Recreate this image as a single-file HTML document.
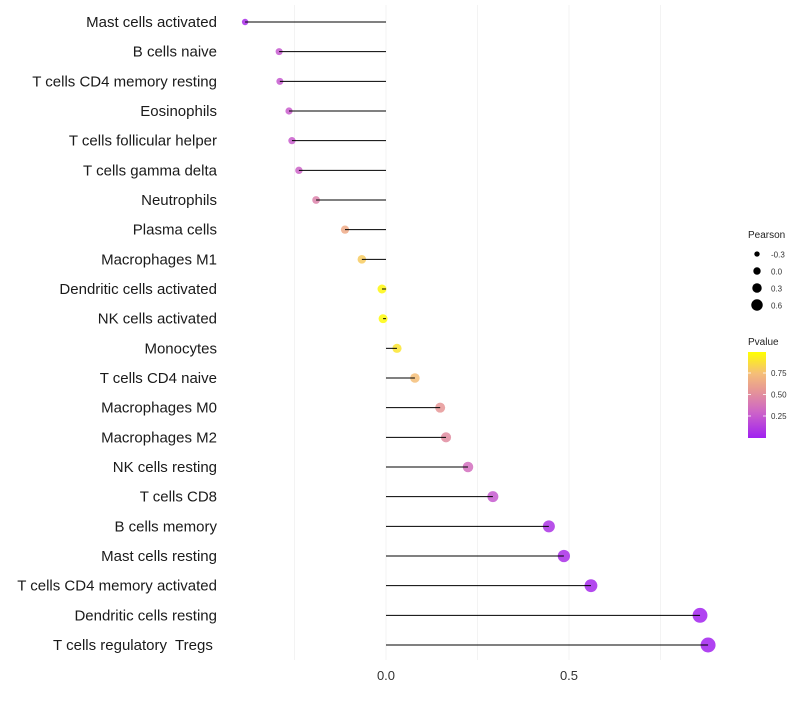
<!DOCTYPE html>
<html><head><meta charset="utf-8"><style>
body{margin:0;background:#fff;font-family:"Liberation Sans",sans-serif}
text{white-space:pre}
</style></head><body>
<svg id="chart" width="800" height="700" xmlns="http://www.w3.org/2000/svg" font-family="Liberation Sans, sans-serif"></svg>
<script>
const categories=["Mast cells activated","B cells naive","T cells CD4 memory resting","Eosinophils","T cells follicular helper","T cells gamma delta","Neutrophils","Plasma cells","Macrophages M1","Dendritic cells activated","NK cells activated","Monocytes","T cells CD4 naive","Macrophages M0","Macrophages M2","NK cells resting","T cells CD8","B cells memory","Mast cells resting","T cells CD4 memory activated","Dendritic cells resting","T cells regulatory  Tregs "];
const pearson=[-0.385,-0.292,-0.29,-0.265,-0.257,-0.238,-0.191,-0.112,-0.066,-0.011,-0.008,0.03,0.079,0.148,0.164,0.224,0.292,0.445,0.486,0.56,0.858,0.88];
const pvalues=[0.05,0.25,0.25,0.27,0.27,0.3,0.45,0.65,0.8,0.97,0.98,0.9,0.75,0.55,0.5,0.35,0.25,0.08,0.06,0.04,0.01,0.01];
const xTicks=[0,0.5];
const xGrid=[-0.25,0.25,0.75];
const sizeLegend=[-0.3,0,0.3,0.6];
const colorTicks=[0.25,0.5,0.75];

const svg=document.getElementById('chart');
const NS='http://www.w3.org/2000/svg';
function mk(t,a,p){const e=document.createElementNS(NS,t);for(const k in a)e.setAttribute(k,a[k]);(p||svg).appendChild(e);return e;}
const xS=v=>386+v*366;
const yS=i=>22+i*(623/21);
const rS=v=>Math.max(2,4.5+3.4*v);
const stops=[[0,[160,32,240]],[0.3,[205,100,200]],[0.55,[230,150,150]],[0.75,[245,190,120]],[1,[255,255,0]]];
function col(p){for(let i=1;i<stops.length;i++){if(p<=stops[i][0]){const a=stops[i-1],b=stops[i];const t=(p-a[0])/(b[0]-a[0]);return 'rgb('+a[1].map((c,j)=>Math.round(c+(b[1][j]-c)*t)).join(',')+')';}}return 'rgb(255,255,0)';}

xGrid.concat(xTicks).forEach(v=>{const g=mk('line',{x1:xS(v),x2:xS(v),y1:5,y2:660,stroke:'#f3f3f3','stroke-width':1});

});
xTicks.forEach(v=>{const t=mk('text',{x:xS(v),y:680,'text-anchor':'middle','font-size':13,fill:'#333'});t.textContent=v.toFixed(1);

});

categories.forEach((c,i)=>{
 const y=yS(i);
 const t=mk('text',{x:217,y:y+5,'text-anchor':'end','font-size':15,fill:'#1a1a1a'});t.textContent=c;
 
 
 const d=mk('circle',{cx:xS(pearson[i]),cy:y,r:rS(pearson[i]),fill:col(pvalues[i]),'fill-opacity':0.85});
 
 
 const l=mk('line',{x1:xS(0),x2:xS(pearson[i]),y1:y,y2:y,stroke:'#000','stroke-width':1});
 
 
});

const pt=mk('text',{x:748,y:238,'font-size':10,fill:'#222'});pt.textContent='Pearson';


sizeLegend.forEach((v,i)=>{const y=254+i*17;
 const c=mk('circle',{cx:757,cy:y,r:rS(v)-0.8,fill:'#000'});
 
 
 const t=mk('text',{x:771,y:y+3.5,'font-size':8,fill:'#333'});t.textContent=v.toFixed(1);
 
 });

const ct=mk('text',{x:748,y:345,'font-size':10,fill:'#222'});ct.textContent='Pvalue';


const defs=mk('defs',{});const lg=mk('linearGradient',{id:'pg',x1:0,y1:1,x2:0,y2:0},defs);
stops.forEach(s=>mk('stop',{offset:s[0],'stop-color':'rgb('+s[1].join(',')+')'},lg));
const cb=mk('rect',{x:748,y:352,width:18,height:86,fill:'url(#pg)'});


colorTicks.forEach(v=>{const y=437.5-v*86;
 mk('line',{x1:748,x2:751,y1:y,y2:y,stroke:'#fff','stroke-width':0.8});
 mk('line',{x1:763,x2:766,y1:y,y2:y,stroke:'#fff','stroke-width':0.8});
 const t=mk('text',{x:771,y:y+3,'font-size':8,fill:'#333'});t.textContent=v.toFixed(2);
 
 });
</script>
</body></html>
